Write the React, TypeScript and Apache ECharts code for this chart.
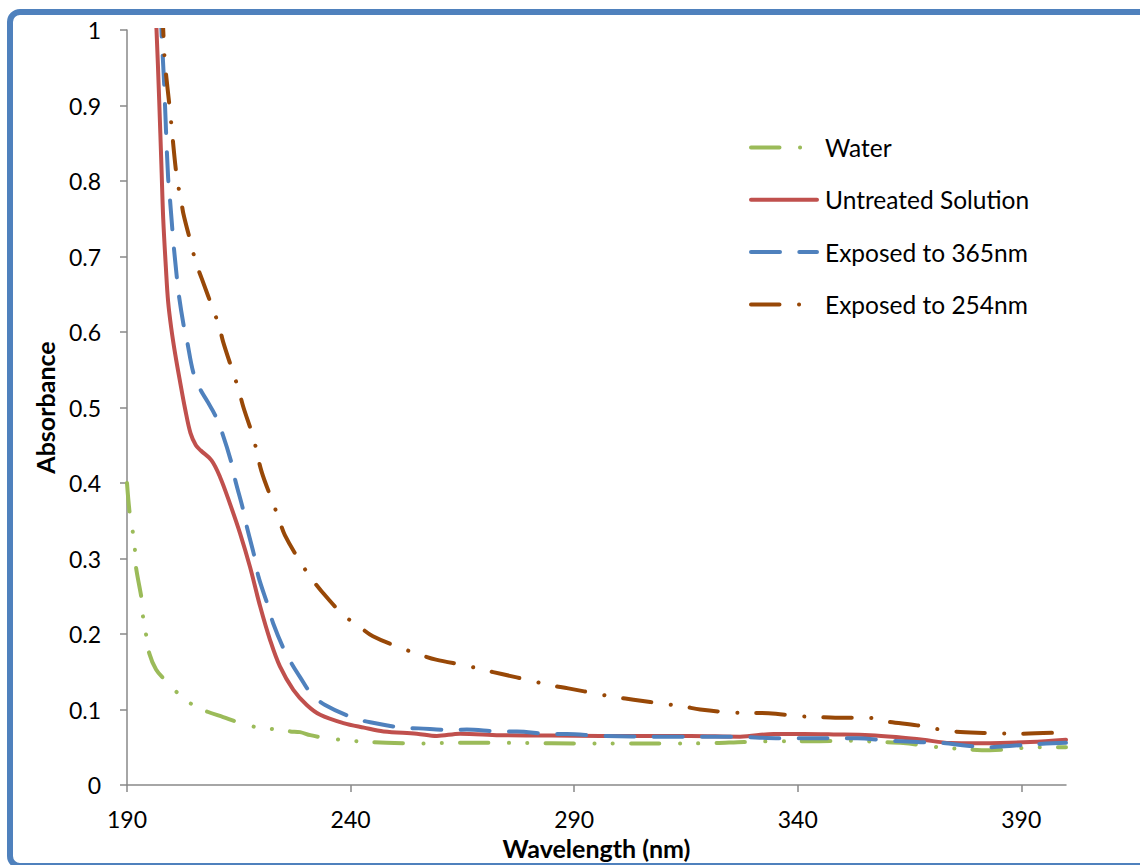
import React, { useEffect, useRef } from "react";
import * as echarts from "echarts";

const xTicks = [190, 240, 290, 340, 390];

const waterW = [190, 190.6, 191.3, 191.8, 192, 193.3, 193.6, 194.3, 195, 196.5, 198.5, 201.3, 204.5, 208, 211.5, 214.9, 218.6, 222.6, 226.5, 228.7, 231, 233.6, 237.5, 241.5, 248, 256, 264, 271, 280, 290, 300, 310, 320, 328, 335.6, 343, 352, 358, 363.6, 371.4, 375.7, 383, 390.4, 394.7, 400];
const waterA = [0.4, 0.36, 0.335, 0.31, 0.289, 0.245, 0.222, 0.198, 0.174, 0.153, 0.139, 0.122, 0.107, 0.097, 0.09, 0.083, 0.077, 0.074, 0.071, 0.07, 0.066, 0.063, 0.06, 0.058, 0.056, 0.055, 0.056, 0.056, 0.0555, 0.055, 0.055, 0.055, 0.0553, 0.057, 0.058, 0.058, 0.0587, 0.057, 0.0556, 0.05, 0.048, 0.046, 0.049, 0.05, 0.05];

const untreatedW = [196.3, 196.6, 197.2, 197.7, 198.1, 198.7, 199.2, 199.9, 200.8, 201.9, 203, 204.2, 205.4, 206.5, 208.9, 210.8, 213, 215.3, 217.5, 219.8, 222, 224.2, 227.2, 230.2, 233.2, 238.4, 243, 247.4, 254.8, 259.3, 264.5, 273.4, 285, 295.8, 305, 316, 327.1, 334.6, 341.3, 348, 356.2, 363, 368, 374.1, 380, 385.3, 392, 400];
const untreatedA = [1.03, 1.0, 0.907, 0.82, 0.75, 0.685, 0.64, 0.605, 0.57, 0.533, 0.498, 0.466, 0.45, 0.443, 0.43, 0.408, 0.373, 0.333, 0.289, 0.236, 0.192, 0.157, 0.126, 0.106, 0.093, 0.082, 0.076, 0.071, 0.068, 0.065, 0.068, 0.066, 0.0655, 0.065, 0.065, 0.065, 0.064, 0.0675, 0.0675, 0.067, 0.066, 0.063, 0.06, 0.0556, 0.0553, 0.0556, 0.057, 0.06];

const uv365W = [197.6, 197.7, 198.3, 198.7, 199.2, 199.5, 200.1, 200.4, 201.1, 201.5, 202.6, 203.4, 204.8, 206.3, 208, 209.7, 211.2, 213.4, 214.2, 216, 216.8, 218.6, 219.4, 221.6, 222.7, 225.3, 227.2, 228.7, 231.2, 234.3, 240.6, 244.4, 251.5, 255.2, 262.6, 266, 273.4, 277.2, 284.6, 288.4, 295.8, 310, 325, 336, 347.3, 353.3, 360, 366.7, 372.6, 377.9, 383, 388, 392.7, 400];
const uv365A = [1.03, 1.0, 0.93, 0.87, 0.804, 0.784, 0.739, 0.717, 0.675, 0.653, 0.611, 0.589, 0.547, 0.525, 0.508, 0.49, 0.468, 0.426, 0.404, 0.364, 0.342, 0.3, 0.276, 0.236, 0.214, 0.177, 0.157, 0.143, 0.121, 0.106, 0.089, 0.083, 0.076, 0.075, 0.073, 0.0735, 0.071, 0.071, 0.0675, 0.0675, 0.065, 0.064, 0.064, 0.062, 0.062, 0.062, 0.059, 0.057, 0.0556, 0.052, 0.05, 0.052, 0.054, 0.056];

const uv254W = [197.9, 198.1, 198.5, 199.6, 201.2, 202, 202.6, 204.5, 205.4, 206.7, 209.3, 210.6, 211.5, 213.8, 215, 216, 218.3, 220.1, 222.7, 224, 225.3, 228.7, 231.2, 233.6, 238.4, 241.7, 245, 251.5, 255.3, 259.1, 266, 270, 273.8, 280.5, 284.6, 288.7, 295.8, 299.6, 303.3, 310.7, 314.5, 318.2, 325.6, 333.5, 340.7, 344.5, 348.4, 355.8, 360, 366.7, 374, 381.5, 390, 400];
const uv254A = [1.03, 1.0, 0.956, 0.894, 0.801, 0.779, 0.757, 0.713, 0.692, 0.671, 0.629, 0.608, 0.587, 0.545, 0.523, 0.501, 0.459, 0.415, 0.373, 0.352, 0.331, 0.296, 0.274, 0.256, 0.225, 0.211, 0.197, 0.181, 0.173, 0.166, 0.158, 0.152, 0.147, 0.138, 0.132, 0.128, 0.12, 0.116, 0.113, 0.107, 0.104, 0.1, 0.096, 0.095, 0.091, 0.09, 0.089, 0.089, 0.084, 0.079, 0.0715, 0.069, 0.068, 0.07];

const seriesNames = ["Water", "Untreated Solution", "Exposed to 365nm", "Exposed to 254nm"];
const seriesColors = ["#9bbb59", "#c0504d", "#4f81bd", "#984807"];
const seriesDash: any[] = [[28.5, 20.5, 0.1, 18.3, 0.1, 18], "solid", [29, 19.3], [28.5, 19.5, 0.1, 19]];

const pairs = (w: number[], a: number[]) => w.map((x, i) => [x, a[i]]);
const allData = [
  pairs(waterW, waterA),
  pairs(untreatedW, untreatedA),
  pairs(uv365W, uv365A),
  pairs(uv254W, uv254A),
];

const FONT = "Lato, 'Open Sans', sans-serif";
const LW = 4;

export default function App() {
  const ref = useRef<HTMLDivElement>(null);
  useEffect(() => {
    if (!ref.current) return;
    const chart = echarts.init(ref.current, undefined, { renderer: "svg" });
    const axisLineStyle = { color: "#898989", width: 1.5 };
    chart.setOption({
      animation: false,
      backgroundColor: "#ffffff",
      grid: { left: 127, right: 74, top: 30, bottom: 80, containLabel: false },
      legend: {
        left: 749,
        top: 135,
        padding: 0,
        orient: "vertical",
        itemWidth: 66,
        itemHeight: 24,
        itemGap: 27.3,
        itemStyle: { color: "rgba(0,0,0,0)", borderWidth: 0, opacity: 0 },
        lineStyle: { width: LW, cap: "round" },
        textStyle: { fontFamily: FONT, fontSize: 24.5, color: "#000", lineHeight: 24, padding: [0, 0, 0, 3] },
        data: seriesNames,
      },
      xAxis: {
        type: "value",
        min: 190,
        max: 400,
        interval: 50,
        name: "Wavelength (nm)",
        nameLocation: "middle",
        nameGap: 50,
        nameTextStyle: { fontFamily: FONT, fontSize: 25, fontWeight: "bold", color: "#000" },
        axisLine: { show: true, onZero: false, lineStyle: axisLineStyle },
        axisTick: { show: true, length: 7, inside: false, lineStyle: axisLineStyle, customValues: xTicks },
        axisLabel: { fontFamily: FONT, fontSize: 23, color: "#000", margin: 22, customValues: xTicks },
        splitLine: { show: false },
      },
      yAxis: {
        type: "value",
        min: 0,
        max: 1,
        interval: 0.1,
        name: "Absorbance",
        nameLocation: "middle",
        nameGap: 70,
        nameRotate: 90,
        nameTextStyle: { fontFamily: FONT, fontSize: 25, fontWeight: "bold", color: "#000" },
        axisLine: { show: true, lineStyle: axisLineStyle },
        axisTick: { show: true, length: 7, inside: false, lineStyle: axisLineStyle },
        axisLabel: { fontFamily: FONT, fontSize: 23, color: "#000", margin: 26 },
        splitLine: { show: false },
      },
      series: allData.map((d, i) => ({
        name: seriesNames[i],
        type: "line",
        data: d,
        smooth: 0.35,
        showSymbol: false,
        symbol: "none",
        clip: true,
        color: seriesColors[i],
        lineStyle: { color: seriesColors[i], width: LW, type: seriesDash[i], cap: "round", join: "round" },
      })),
      graphic: [
        {
          type: "rect",
          shape: { x: 10, y: 12, width: 1150, height: 854, r: 10 },
          style: { fill: "none", stroke: "#4f81bd", lineWidth: 6 },
          silent: true,
        },
      ],
    });
    return () => chart.dispose();
  }, []);
  return (
    <div
      ref={ref}
      style={{ position: "absolute", left: 0, top: 0, width: 1140, height: 865, background: "#fff" }}
    />
  );
}
